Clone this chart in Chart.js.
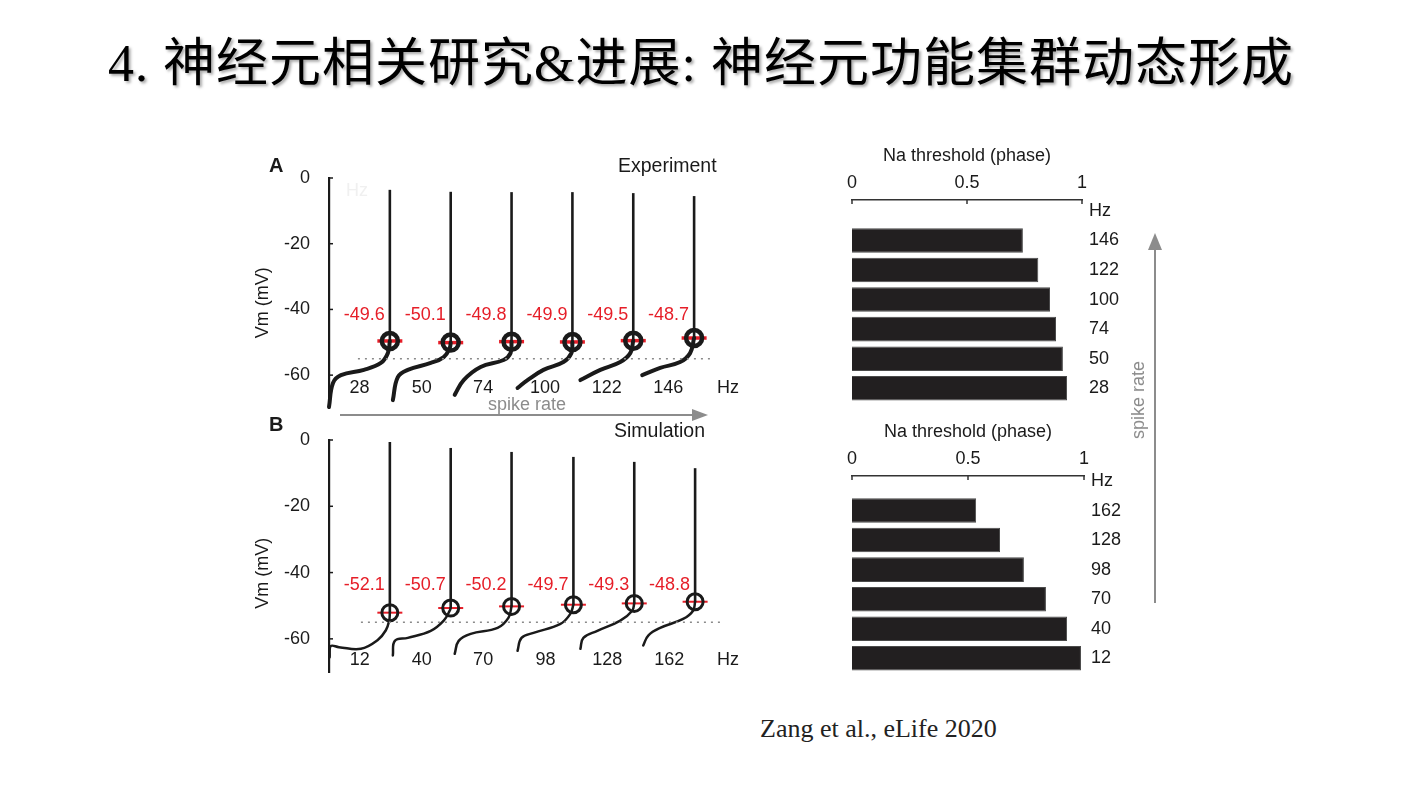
<!DOCTYPE html>
<html>
<head>
<meta charset="utf-8">
<title>Na threshold vs spike rate</title>
<script src="https://cdn.jsdelivr.net/npm/chart.js@4.4.0/dist/chart.umd.min.js"></script>
<style>
  body { margin: 0; background: #fff; }
  #page { position: relative; width: 1407px; height: 786px; overflow: hidden; font-family: "Liberation Sans", Arial, sans-serif; color: #1a1a1a; }
  canvas, svg { position: absolute; }
  .t { position: absolute; white-space: nowrap; line-height: 1; }
  .mid { transform: translate(-50%, -50%); }
  .left { transform: translateY(-50%); }
  #title { left: 108px; top: 38px; font-size: 52px; color: #000; letter-spacing: 1px;
           font-family: "Liberation Serif", "Noto Sans CJK SC", serif; text-shadow: 2px 2px 3px rgba(0,0,0,0.35); }
  #cite { left: 760px; top: 729px; font-size: 26px; font-family: "Liberation Serif", serif; color: #222; }
</style>
</head>
<body>
<div id="page">
  <div class="t" id="title">4. 神经元相关研究&amp;进展: 神经元功能集群动态形成</div>

  <svg width="1407" height="786" style="left:0;top:0">
    <line x1="340" y1="415" x2="694" y2="415" stroke="#8c8c8c" stroke-width="2"/>
    <polygon points="708,415 692,409 692,421" fill="#8c8c8c"/>
    <line x1="1155" y1="248" x2="1155" y2="603" stroke="#8c8c8c" stroke-width="2"/>
    <polygon points="1155,233 1148,250 1162,250" fill="#8c8c8c"/>
  </svg>

  <canvas id="traceA" width="520" height="290" style="left:240px;top:148px"></canvas>
  <canvas id="traceB" width="520" height="292" style="left:240px;top:410px"></canvas>
  <canvas id="barA" width="287" height="281" style="left:840px;top:140px"></canvas>
  <canvas id="barB" width="289" height="275" style="left:840px;top:416px"></canvas>

  <div class="t left" style="left:269px;top:165px;font-size:20px;font-weight:bold">A</div>
  <div class="t left" style="left:618px;top:166px;font-size:19.5px">Experiment</div>
  <div class="t left" style="left:346px;top:190px;font-size:18px;color:#f0f0f0">Hz</div>
  <div class="t mid" style="left:527px;top:404px;font-size:18px;color:#8c8c8c">spike rate</div>
  <div class="t left" style="left:269px;top:424px;font-size:20px;font-weight:bold">B</div>
  <div class="t left" style="left:614px;top:431px;font-size:19.5px">Simulation</div>
  <div class="t mid" style="left:1138px;top:400px;font-size:18px;color:#8c8c8c;transform:translate(-50%,-50%) rotate(-90deg)">spike rate</div>
  <div class="t left" id="cite">Zang et al., eLife 2020</div>
</div>

<script>
// ---- data ----
// voltage axis ticks (mV) and phase axis ticks
const vmTicks = [0, -20, -40, -60];
const phaseTicks = [0, 0.5, 1];

// panel A (experiment): spike times (ms), Na threshold (mV), spike peak (mV)
const hzA = ['28', '50', '74', '100', '122', '146'];
const spikeTA = [30.5, 61, 91.5, 122, 152.5, 183];
const thrA = [-49.6, -50.1, -49.8, -49.9, -49.5, -48.7];
const peakA = [-3.6, -4.2, -4.3, -4.3, -4.6, -5.5];
// subthreshold approach to each spike, [t, Vm]
const traceA1 = [[0, -69.7], [2, -62.4], [6, -60], [17.5, -58.4], [26, -56.3], [29.5, -53.3]];
const traceA2 = [[32, -67.6], [34.5, -60.6], [39.5, -58.4], [51, -56.3], [57.5, -54.5], [60.5, -51.8]];
const traceA3 = [[63, -66], [67.5, -61.5], [76, -57.5], [87.5, -55.4], [91, -53.3]];
const traceA4 = [[94.5, -63.9], [99.5, -61.5], [107.5, -58.4], [117.5, -56], [121.5, -53.3]];
const traceA5 = [[126, -61.5], [136, -58.4], [146, -56], [151, -53.3]];
const traceA6 = [[157, -60], [166, -57.8], [176, -56], [181, -53.3]];

// panel B (simulation)
const hzB = ['12', '40', '70', '98', '128', '162'];
const spikeTB = [30.5, 61, 91.5, 122.5, 153, 183.5];
const thrB = [-52.1, -50.7, -50.2, -49.7, -49.3, -48.8];
const peakB = [-0.6, -2.4, -3.6, -5.1, -6.6, -8.5];
const traceB1 = [[0.3, -65.6], [0.8, -62.2], [5, -62.5], [16, -63], [24.3, -60.4], [28.5, -57.4], [30.2, -54.4]];
const traceB2 = [[32, -65], [33, -60.6], [39.5, -59.7], [51, -57.6], [57.5, -54.5], [60.5, -51.5]];
const traceB3 = [[63, -64.5], [65, -60.6], [71, -58.5], [84.5, -56.7], [90, -53.6]];
const traceB4 = [[94.5, -63.6], [96.5, -59.7], [102.5, -58.2], [116, -55.5], [121, -52.4]];
const traceB5 = [[126, -63], [127.5, -59.7], [134.5, -57.6], [146, -54.5], [152, -51.5]];
const traceB6 = [[157.5, -62], [160, -59], [166, -56.7], [177.5, -54], [182.5, -51.5]];

// dotted reference level (mV) and its extent (ms)
const refLevel = -55;
const refSpanA = [14.5, 192];
const refSpanB = [16, 198];

// Na threshold phase per spike rate
const barHzA = ['Hz', '146', '122', '100', '74', '50', '28'];
const phaseA = [0.743, 0.81, 0.861, 0.887, 0.917, 0.935];
const barHzB = ['Hz', '162', '128', '98', '70', '40', '12'];
const phaseB = [0.535, 0.638, 0.741, 0.836, 0.927, 0.987];

const ink = '#1a1a1a';
const red = '#e61e28';
Chart.defaults.font.family = '"Liberation Sans", Arial, sans-serif';
Chart.defaults.font.size = 18;
Chart.defaults.color = ink;

// text on the voltage traces: threshold values, rates, axis title, tick marks
const traceText = {
  id: 'traceText',
  afterDraw(chart, args, o) {
    const { ctx, chartArea } = chart;
    const x = chart.scales.x, y = chart.scales.y;
    ctx.save();
    ctx.font = '18px "Liberation Sans", Arial, sans-serif';
    ctx.textBaseline = 'middle';

    ctx.fillStyle = red;
    ctx.textAlign = 'right';
    o.thr.forEach((v, i) => {
      ctx.fillText(v.toFixed(1), x.getPixelForValue(o.spikeT[i]) - 5, y.getPixelForValue(o.labelLevel));
    });

    ctx.fillStyle = ink;
    ctx.textAlign = 'center';
    o.hz.forEach((h, i) => {
      const xm = (x.getPixelForValue(o.starts[i]) + x.getPixelForValue(o.spikeT[i])) / 2;
      ctx.fillText(h, xm, y.getPixelForValue(o.hzLevel));
    });
    ctx.textAlign = 'left';
    ctx.fillText('Hz', x.getPixelForValue(194.5), y.getPixelForValue(o.hzLevel));

    // small inward ticks
    ctx.strokeStyle = ink;
    ctx.lineWidth = 1.5;
    vmTicks.forEach(v => {
      const py = y.getPixelForValue(v);
      ctx.beginPath();
      ctx.moveTo(chartArea.left, py);
      ctx.lineTo(chartArea.left + 4, py);
      ctx.stroke();
    });

    ctx.translate(chartArea.left - 66, y.getPixelForValue(o.titleLevel));
    ctx.rotate(-Math.PI / 2);
    ctx.textAlign = 'center';
    ctx.fillText('Vm (mV)', 0, 0);
    ctx.restore();
  }
};

// downward tick marks on the phase axis
const phaseTickMarks = {
  id: 'phaseTickMarks',
  afterDraw(chart) {
    const { ctx, chartArea } = chart;
    const x = chart.scales.x;
    ctx.save();
    ctx.strokeStyle = '#333';
    ctx.lineWidth = 1.5;
    phaseTicks.forEach(v => {
      const px = x.getPixelForValue(v);
      ctx.beginPath();
      ctx.moveTo(px, chartArea.top);
      ctx.lineTo(px, chartArea.top + 4);
      ctx.stroke();
    });
    ctx.restore();
  }
};

function toPoints(arr) {
  return arr.map(p => ({ x: p[0], y: p[1] }));
}

// Function to draw one voltage panel
function traceChart(id, traces, spikeT, thr, peaks, refSpan, hz, look) {
  const datasets = [];

  // dotted reference level
  datasets.push({
    data: [{ x: refSpan[0], y: refLevel }, { x: refSpan[1], y: refLevel }],
    borderColor: '#8a8a8a', borderWidth: 1.5, borderDash: [2, 5], pointRadius: 0
  });

  traces.forEach((tr, i) => {
    // approach to threshold
    datasets.push({
      data: toPoints(tr).concat([{ x: spikeT[i], y: thr[i] }]),
      borderColor: ink, borderWidth: look.traceW, tension: 0.4, pointRadius: 0,
      borderCapStyle: 'round', clip: false
    });
    // the spike itself
    datasets.push({
      data: [{ x: spikeT[i], y: thr[i] }, { x: spikeT[i], y: peaks[i] }],
      borderColor: ink, borderWidth: look.spikeW, tension: 0, pointRadius: 0, clip: false
    });
  });

  const thrPoints = thr.map((v, i) => ({ x: spikeT[i], y: v }));
  datasets.push({
    data: thrPoints, showLine: false, pointStyle: 'circle', pointRadius: look.ringR,
    pointBorderWidth: look.ringW, pointBorderColor: ink, pointBackgroundColor: 'rgba(0,0,0,0)', clip: false
  });
  datasets.push({
    data: thrPoints, showLine: false, pointStyle: 'line', pointRadius: 12.5,
    pointBorderWidth: look.redW, pointBorderColor: red, clip: false
  });

  return new Chart(document.getElementById(id), {
    type: 'line',
    data: { datasets: datasets },
    options: {
      responsive: false,
      animation: false,
      events: [],
      layout: { padding: { top: 30, bottom: 30, left: 0, right: 20 } },
      plugins: {
        legend: { display: false },
        tooltip: { enabled: false },
        traceText: {
          thr: thr, spikeT: spikeT, hz: hz, starts: traces.map(tr => tr[0][0]),
          labelLevel: look.labelLevel, hzLevel: look.hzLevel, titleLevel: look.titleLevel
        }
      },
      scales: {
        x: { type: 'linear', min: 0, max: 206, display: false },
        y: {
          min: -70, max: 0, bounds: 'data',
          afterBuildTicks: s => { s.ticks = vmTicks.map(v => ({ value: v })); },
          afterFit: s => { s.width = 89; },
          ticks: { color: ink, padding: 19 },
          grid: { display: false, drawTicks: false },
          border: { color: ink, width: 2.2 }
        }
      }
    },
    plugins: [traceText]
  });
}

// Function to draw one threshold-phase bar chart
function barChart(id, vals, labels, yMin) {
  return new Chart(document.getElementById(id), {
    type: 'bar',
    data: {
      datasets: [{
        data: vals.map((v, i) => ({ x: v, y: i + 1 })),
        backgroundColor: '#221f20',
        borderColor: '#4a4a4a',
        borderWidth: 1,
        barPercentage: 0.83,
        categoryPercentage: 1
      }]
    },
    options: {
      indexAxis: 'y',
      responsive: false,
      animation: false,
      events: [],
      layout: { padding: { left: 12, right: 0, top: 0, bottom: 18 } },
      plugins: { legend: { display: false }, tooltip: { enabled: false } },
      scales: {
        x: {
          type: 'linear', position: 'top', min: 0, max: 1, bounds: 'data',
          afterBuildTicks: s => { s.ticks = phaseTicks.map(v => ({ value: v })); },
          afterFit: s => { s.height = 60; },
          ticks: { color: ink, padding: 6, callback: v => String(v) },
          grid: { display: false, drawTicks: false },
          border: { color: '#333', width: 1.5 },
          title: { display: true, text: 'Na threshold (phase)', color: ink, padding: { top: 5, bottom: 0 } }
        },
        y: {
          type: 'linear', position: 'right', reverse: true, min: yMin, max: 6.5,
          bounds: 'data', offset: false, grace: 0,
          afterBuildTicks: s => { s.ticks = labels.map((h, i) => ({ value: i })); },
          afterFit: s => { s.width = 45; },
          ticks: { color: ink, padding: 7, callback: v => labels[v] },
          grid: { display: false, drawTicks: false, offset: false },
          border: { display: false }
        }
      }
    },
    plugins: [phaseTickMarks]
  });
}

traceChart('traceA', [traceA1, traceA2, traceA3, traceA4, traceA5, traceA6], spikeTA, thrA, peakA, refSpanA, hzA, {
  traceW: 4, spikeW: 2.6, ringR: 8, ringW: 4.5, redW: 3.5,
  labelLevel: -41.7, hzLevel: -63.9, titleLevel: -38
});
traceChart('traceB', [traceB1, traceB2, traceB3, traceB4, traceB5, traceB6], spikeTB, thrB, peakB, refSpanB, hzB, {
  traceW: 2.5, spikeW: 2.6, ringR: 8, ringW: 3, redW: 2,
  labelLevel: -43.8, hzLevel: -66.4, titleLevel: -40.2
});
barChart('barA', phaseA, barHzA, -0.37);
barChart('barB', phaseB, barHzB, -0.17);
</script>
</body>
</html>
